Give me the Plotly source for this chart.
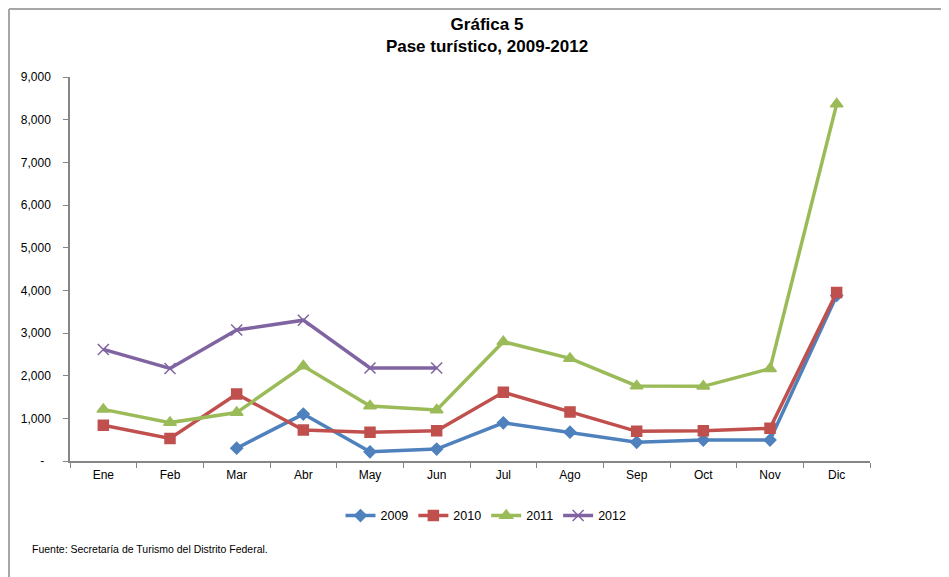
import plotly.graph_objects as go

meses = ["Ene", "Feb", "Mar", "Abr", "May", "Jun", "Jul", "Ago", "Sep", "Oct", "Nov", "Dic"]
v2009 = [None, None, 300, 1100, 215, 280, 895, 675, 440, 490, 490, 3880]
v2010 = [840, 530, 1570, 725, 675, 710, 1610, 1150, 695, 710, 765, 3950]
v2011 = [1210, 900, 1135, 2225, 1290, 1195, 2795, 2405, 1760, 1750, 2165, 8365]
v2012 = [2615, 2170, 3070, 3300, 2180, 2180, None, None, None, None, None, None]

y_ticks = [0, 1000, 2000, 3000, 4000, 5000, 6000, 7000, 8000, 9000]
y_labels = ["-\u00a0\u00a0", "1,000", "2,000", "3,000", "4,000", "5,000", "6,000", "7,000", "8,000", "9,000"]

series = [
    ("2009", v2009, "#4F81BD", "diamond", 9),
    ("2010", v2010, "#C0504D", "square", 10),
    ("2011", v2011, "#9BBB59", "triangle-up", 11),
    ("2012", v2012, "#8064A2", "x-thin-open", 11),
]

fig = go.Figure()
for name, vals, color, sym, size in series:
    fig.add_trace(go.Scatter(
        x=meses, y=vals, name=name, mode="lines+markers",
        line=dict(color=color, width=3.5),
        marker=dict(symbol=sym, size=size, color=color,
                    line=dict(color=color, width=1.5)),
        connectgaps=False,
    ))

# page body has an 8px margin; figure is placed at (8, 8)
W, H = 941, 569
font = "Liberation Sans, Arial, sans-serif"
fig.update_layout(
    width=W, height=H,
    margin=dict(l=62, r=79, t=69, b=116),
    paper_bgcolor="white", plot_bgcolor="white",
    font=dict(family=font, size=12, color="black"),
    title=dict(text="<b>Gráfica 5<br>Pase turístico, 2009-2012</b>",
               x=(487 - 8) / W, xanchor="center", xref="container",
               y=1 - 22 / H, yanchor="middle", yref="container",
               font=dict(size=17, family=font, color="black")),
    showlegend=True,
    legend=dict(orientation="h", x=0.52, xanchor="center", xref="paper",
                y=-0.143, yanchor="middle", font=dict(size=12.5),
                itemwidth=30, tracegroupgap=0),
    xaxis=dict(type="category", range=[-0.5, 11.5], showline=True,
               linecolor="#868686", linewidth=1.5, ticks="outside",
               tickson="boundaries", ticklen=5, tickcolor="#868686",
               showgrid=False, zeroline=False, tickfont=dict(size=12),
               ticklabelstandoff=2),
    yaxis=dict(range=[0, 9000], tickvals=y_ticks, ticktext=y_labels,
               showline=True, linecolor="#868686", linewidth=1.5,
               ticks="outside", ticklen=5, tickcolor="#868686",
               showgrid=False, zeroline=False, tickfont=dict(size=12),
               ticklabelstandoff=10),
    annotations=[dict(text="Fuente: Secretaría de Turismo del Distrito Federal.",
                      xref="paper", yref="paper", x=(30 - 70) / 800, y=(461 - 549) / 384,
                      xanchor="left", yanchor="middle", showarrow=False,
                      font=dict(size=10.5, family=font))],
    shapes=[
        dict(type="line", xref="paper", yref="paper",
             x0=(9 - 70) / 800, x1=(949 - 70) / 800,
             y0=(461 - 9) / 384, y1=(461 - 9) / 384,
             line=dict(color="#A6A6A6", width=2)),
        dict(type="line", xref="paper", yref="paper",
             x0=(9 - 70) / 800, x1=(9 - 70) / 800,
             y0=(461 - 9) / 384, y1=(461 - 580) / 384,
             line=dict(color="#A6A6A6", width=2)),
    ],
)

fig.write_html("out.html")
